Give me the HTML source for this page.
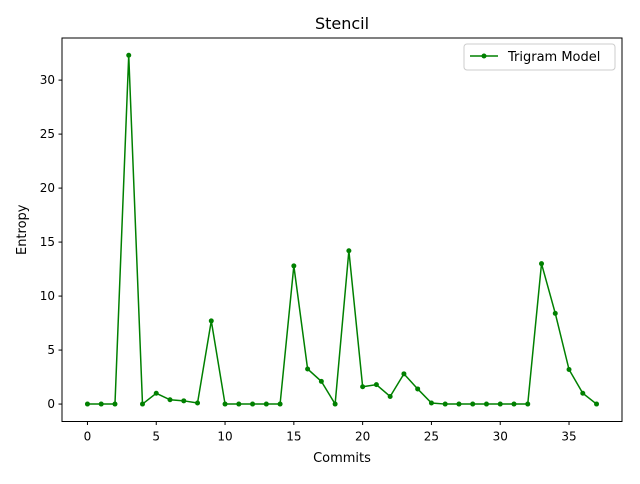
<!DOCTYPE html>
<html><head><meta charset="utf-8"><style>
body{margin:0;background:#fff;font-family:"DejaVu Sans","Liberation Sans",sans-serif}
text{font-family:"DejaVu Sans","Liberation Sans",sans-serif}
</style></head><body>
<svg id="chart" width="640" height="480" xmlns="http://www.w3.org/2000/svg"></svg>
<script>
const commits=[0,1,2,3,4,5,6,7,8,9,10,11,12,13,14,15,16,17,18,19,20,21,22,23,24,25,26,27,28,29,30,31,32,33,34,35,36,37];
const entropy=[0,0,0,32.3,0,1.0,0.4,0.3,0.1,7.7,0,0,0,0,0,12.8,3.25,2.1,0,14.2,1.6,1.8,0.7,2.8,1.4,0.1,0,0,0,0,0,0,0,13.0,8.4,3.2,1.0,0];
const xTicks=[0,5,10,15,20,25,30,35];
const yTicks=[0,5,10,15,20,25,30];
const L=62,R=622,T=38,B=421.5;
const xMin=-1.85,xMax=38.85,yMin=-1.615,yMax=33.9;
const sx=v=>L+(v-xMin)/(xMax-xMin)*(R-L);
const sy=v=>B-(v-yMin)/(yMax-yMin)*(B-T);
const svg=document.getElementById('chart');
const NS='http://www.w3.org/2000/svg';
function mk(tag,attrs,txt){const e=document.createElementNS(NS,tag);for(const k in attrs)e.setAttribute(k,attrs[k]);if(txt!==undefined)e.textContent=txt;svg.appendChild(e);return e;}
let e;
e=mk('rect',{x:L,y:T,width:R-L,height:B-T,fill:'none',stroke:'#000','stroke-width':1});


xTicks.forEach(t=>{const x=sx(t);
e=mk('line',{x1:x,x2:x,y1:B,y2:B+3.5,stroke:'#000'});


e=mk('text',{x:x,y:B+19,'font-size':12,'text-anchor':'middle'},t);

});
yTicks.forEach(t=>{const y=sy(t);
e=mk('line',{x1:L-3.5,x2:L,y1:y,y2:y,stroke:'#000'});


e=mk('text',{x:L-7,y:y+4,'font-size':12,'text-anchor':'end'},t);

});
e=mk('text',{x:(L+R)/2,y:29,'font-size':16,'text-anchor':'middle'},'Stencil');


e=mk('text',{x:(L+R)/2,y:462,'font-size':13,'text-anchor':'middle'},'Commits');


e=mk('text',{x:26,y:(T+B)/2,'font-size':13,'text-anchor':'middle',transform:`rotate(-90 26 ${(T+B)/2})`},'Entropy');


const pts=commits.map((c,i)=>sx(c)+','+sy(entropy[i])).join(' ');
e=mk('polyline',{points:pts,fill:'none',stroke:'#008000','stroke-width':1.5});


commits.forEach((c,i)=>{e=mk('circle',{cx:sx(c),cy:sy(entropy[i]),r:2.5,fill:'#008000'});

});
e=mk('rect',{x:464,y:44,width:151,height:26,rx:3,fill:'#fff',stroke:'#ccc'});


e=mk('line',{x1:470,x2:498,y1:56,y2:56,stroke:'#008000','stroke-width':1.5});


e=mk('circle',{cx:484,cy:56,r:2.5,fill:'#008000'});


e=mk('text',{x:508,y:61,'font-size':13},'Trigram Model');


</script>
</body></html>
